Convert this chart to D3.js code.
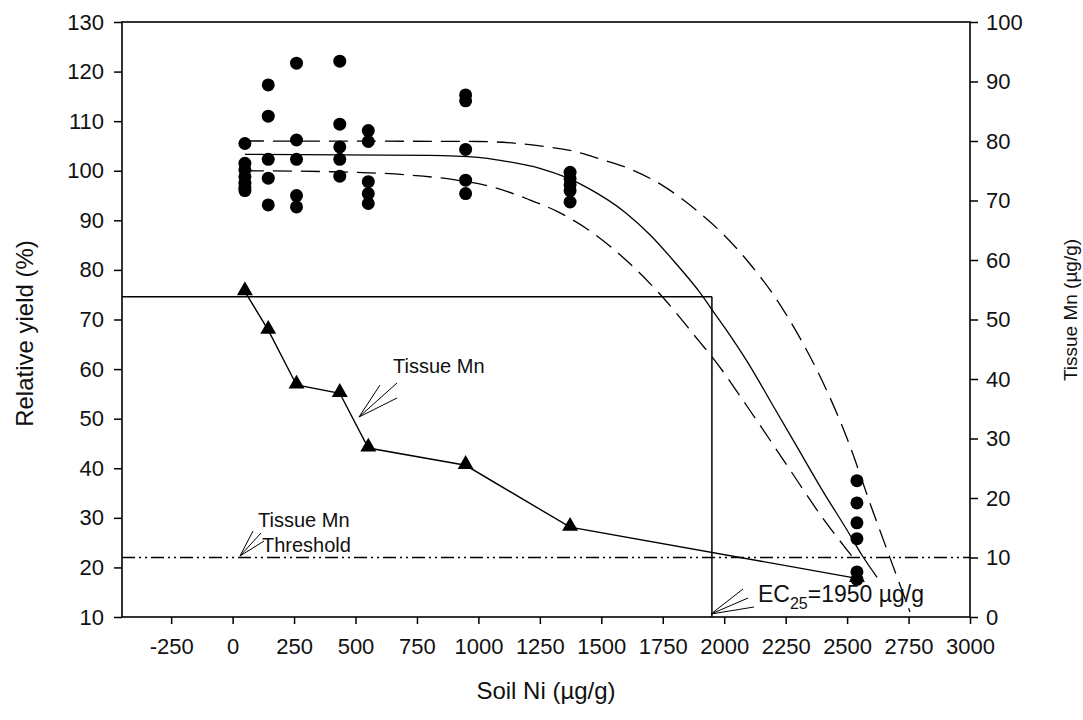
<!DOCTYPE html>
<html><head><meta charset="utf-8">
<script src="https://cdn.jsdelivr.net/npm/d3@7/dist/d3.min.js"></script>
<style>
body{margin:0;background:#fff;}
svg{display:block;font-family:"Liberation Sans",Arial,sans-serif;}
</style></head>
<body><svg id="c" width="1083" height="720"></svg>
<script>
// ---- data ----
const soilNi = [50, 145, 260, 436, 552, 948, 1373, 2540];
const tissueMn = [54.7, 48.2, 39.0, 37.6, 28.4, 25.5, 15.1, 6.5];
const yieldObs = [
  [105.5, 101.5, 100.2, 98.8, 97.5, 96.5, 96.0],
  [117.3, 111.0, 102.3, 98.5, 93.1],
  [121.7, 106.2, 102.3, 95.0, 92.7],
  [122.1, 109.4, 104.8, 102.3, 98.9],
  [108.1, 105.9, 97.8, 95.4, 93.4],
  [115.3, 114.1, 104.3, 98.1, 95.4],
  [99.7, 98.4, 97.2, 96.0, 93.7],
  [37.5, 33.0, 29.0, 25.8, 19.1, 17.6]
];
const fitX = [50, 800, 1000, 1100, 1250, 1360, 1450, 1600, 1700, 1800, 1900, 1950, 2000, 2100, 2200, 2300, 2400, 2500, 2560, 2622];
const fitY = [103.3, 103.1, 102.7, 102.0, 100.5, 98.6, 96.4, 91.5, 87.0, 81.5, 75.5, 72.0, 68.5, 61.0, 52.5, 44.0, 35.5, 27.5, 22.5, 18.0];
const upperX = [50, 1000, 1250, 1400, 1500, 1625, 1750, 1900, 2000, 2100, 2200, 2300, 2400, 2500, 2600, 2700, 2756];
const upperY = [106.0, 105.9, 105.0, 103.8, 102.3, 100.2, 97.0, 91.5, 87.0, 81.5, 75.0, 67.0, 57.5, 46.0, 32.0, 18.5, 11.0];
const lowerX = [50, 400, 700, 900, 1060, 1200, 1320, 1450, 1600, 1750, 1900, 1950, 2100, 2250, 2400, 2500, 2540];
const lowerY = [100.0, 99.8, 99.2, 98.2, 96.7, 94.3, 91.8, 88.0, 82.0, 74.5, 65.5, 62.5, 52.0, 41.0, 30.0, 23.5, 21.0];
const ec25 = 1950, ec25Yield = 74.6, mnThreshold = 10;
const xTickVals = [-250, 0, 250, 500, 750, 1000, 1250, 1500, 1750, 2000, 2250, 2500, 2750, 3000];
const yLeftTicks = [10, 20, 30, 40, 50, 60, 70, 80, 90, 100, 110, 120, 130];
const yRightTicks = [0, 10, 20, 30, 40, 50, 60, 70, 80, 90, 100];

// ---- layout ----
const L = 122, R = 970, T = 22, B = 617;
const svg = d3.select("#c");
const x = d3.scaleLinear().domain([-450, 3000]).range([L, R]);
const yL = d3.scaleLinear().domain([10, 130]).range([B, T]);
const yR = d3.scaleLinear().domain([0, 100]).range([B, T]);

const fs = 22;
const gx = svg.append("g").attr("transform", `translate(0,${B})`)
  .call(d3.axisBottom(x).tickValues(xTickVals).tickSize(7).tickPadding(14).tickFormat(d => String(d)));
const gl = svg.append("g").attr("transform", `translate(${L},0)`)
  .call(d3.axisLeft(yL).tickValues(yLeftTicks).tickSize(8).tickPadding(10).tickFormat(d => String(d)));
const gr = svg.append("g").attr("transform", `translate(${R},0)`)
  .call(d3.axisRight(yR).tickValues(yRightTicks).tickSize(8).tickPadding(8).tickFormat(d => String(d)));
[gx, gl, gr].forEach(g => {
  g.select(".domain").remove();
  g.selectAll("line").attr("stroke", "#000").attr("stroke-width", 1.5);
  g.selectAll("text").attr("font-size", fs).attr("fill", "#111").attr("font-family", "'Liberation Sans',Arial,sans-serif");
});
svg.append("rect").attr("x", L).attr("y", T).attr("width", R - L).attr("height", B - T)
  .attr("fill", "none").attr("stroke", "#000").attr("stroke-width", 1.6);

// titles
svg.append("text").attr("transform", `translate(33,${(T + B) / 2 + 14}) rotate(-90)`)
  .attr("text-anchor", "middle").attr("font-size", 24).attr("fill", "#111").text("Relative yield (%)");
svg.append("text").attr("x", (L + R) / 2).attr("y", 699)
  .attr("text-anchor", "middle").attr("font-size", 24).attr("fill", "#111").text("Soil Ni (µg/g)");
svg.append("text").attr("transform", `translate(1077,310) rotate(-90)`)
  .attr("text-anchor", "middle").attr("font-size", 19).attr("fill", "#111").text("Tissue Mn (µg/g)");

// reference lines
svg.append("line").attr("x1", L).attr("x2", x(ec25)).attr("y1", yL(ec25Yield)).attr("y2", yL(ec25Yield))
  .attr("stroke", "#000").attr("stroke-width", 1.5);
svg.append("line").attr("x1", x(ec25)).attr("x2", x(ec25)).attr("y1", yL(ec25Yield)).attr("y2", B)
  .attr("stroke", "#000").attr("stroke-width", 1.5);
svg.append("line").attr("x1", L).attr("x2", R).attr("y1", yR(mnThreshold)).attr("y2", yR(mnThreshold))
  .attr("stroke", "#000").attr("stroke-width", 1.3).attr("stroke-dasharray", "13,4,2,4,2,4");

// fitted curves
const lineGen = (xs, ys) => d3.line().curve(d3.curveMonotoneX)
  .x((d, i) => x(xs[i])).y((d, i) => yL(ys[i]))(xs);
svg.append("path").attr("d", lineGen(fitX, fitY)).attr("fill", "none").attr("stroke", "#000").attr("stroke-width", 1.3);
svg.append("path").attr("d", lineGen(upperX, upperY)).attr("fill", "none").attr("stroke", "#000").attr("stroke-width", 1.3).attr("stroke-dasharray", "19,9");
svg.append("path").attr("d", lineGen(lowerX, lowerY)).attr("fill", "none").attr("stroke", "#000").attr("stroke-width", 1.3).attr("stroke-dasharray", "19,9");

// observed yield points
const pts = [];
soilNi.forEach((s, i) => yieldObs[i].forEach(v => pts.push([s, v])));
svg.append("g").selectAll("circle").data(pts).join("circle")
  .attr("cx", d => x(d[0])).attr("cy", d => yL(d[1])).attr("r", 6.5).attr("fill", "#000");

// tissue Mn line + triangles
svg.append("path").attr("d", d3.line().x((d, i) => x(soilNi[i])).y(d => yR(d))(tissueMn))
  .attr("fill", "none").attr("stroke", "#000").attr("stroke-width", 1.4);
svg.append("g").selectAll("path").data(tissueMn).join("path")
  .attr("d", d3.symbol(d3.symbolTriangle, 110))
  .attr("transform", (d, i) => `translate(${x(soilNi[i])},${yR(d) - 1})`).attr("fill", "#000");

// annotations
function fan(tip, from) {
  from.forEach(f => svg.append("line").attr("x1", f[0]).attr("y1", f[1]).attr("x2", tip[0]).attr("y2", tip[1])
    .attr("stroke", "#000").attr("stroke-width", 1));
}
svg.append("text").attr("x", 393).attr("y", 373).attr("font-size", 20).attr("fill", "#111").text("Tissue Mn");
fan([359, 417], [[380, 385], [397, 383], [397, 398]]);
svg.append("text").attr("x", 258).attr("y", 527).attr("font-size", 20).attr("fill", "#111").text("Tissue Mn");
svg.append("text").attr("x", 262).attr("y", 552).attr("font-size", 20).attr("fill", "#111").text("Threshold");
fan([240, 556], [[253, 531], [261, 533], [264, 541]]);
const ec = svg.append("text").attr("x", 758).attr("y", 602).attr("font-size", 23).attr("fill", "#111");
ec.append("tspan").text("EC");
ec.append("tspan").attr("font-size", 16).attr("dy", 7).text("25");
ec.append("tspan").attr("dy", -7).text("=1950 µg/g");
fan([711, 614], [[743, 589], [748, 598], [754, 607]]);
</script></body></html>
